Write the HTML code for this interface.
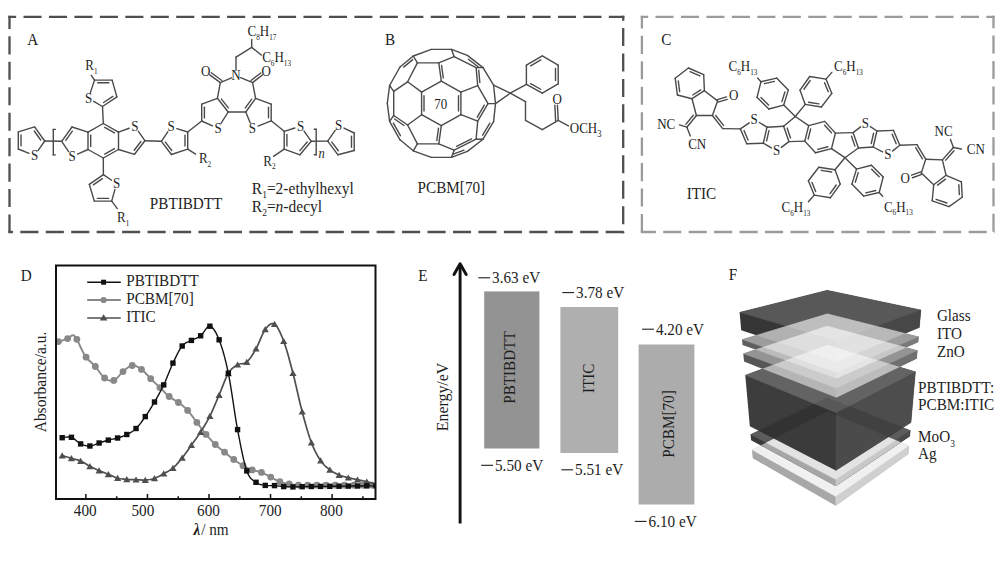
<!DOCTYPE html>
<html><head><meta charset="utf-8"><title>Figure</title>
<style>html,body{margin:0;padding:0;background:#fff;overflow:hidden;}svg{display:block;font-family:"Liberation Serif", "Times New Roman", serif;}</style></head>
<body><svg width="1000" height="562" viewBox="0 0 1000 562">
<rect width="1000" height="562" fill="#fff"/>
<line x1="8.35" y1="16.8" x2="624.35" y2="16.8" stroke="#4f4f4f" stroke-width="2.3" stroke-dasharray="18.1 7.35" stroke-dashoffset="10.3"/>
<line x1="9.5" y1="15.65" x2="9.5" y2="233.15" stroke="#4f4f4f" stroke-width="2.3" stroke-dasharray="18.1 7.35" stroke-dashoffset="4.8"/>
<line x1="8.35" y1="232" x2="624.35" y2="232" stroke="#4f4f4f" stroke-width="2.3" stroke-dasharray="18.1 7.35" stroke-dashoffset="13.5"/>
<line x1="623.2" y1="15.65" x2="623.2" y2="233.15" stroke="#4f4f4f" stroke-width="2.3" stroke-dasharray="18.1 7.35" stroke-dashoffset="13.1"/>
<line x1="640.75" y1="16.8" x2="994.65" y2="16.8" stroke="#9b9b9b" stroke-width="2.3" stroke-dasharray="18.1 7.35" stroke-dashoffset="10.7"/>
<line x1="641.9" y1="15.65" x2="641.9" y2="233.15" stroke="#9b9b9b" stroke-width="2.3" stroke-dasharray="18.1 7.35" stroke-dashoffset="5.3"/>
<line x1="640.75" y1="232" x2="994.65" y2="232" stroke="#9b9b9b" stroke-width="2.3" stroke-dasharray="18.1 7.35" stroke-dashoffset="3"/>
<line x1="993.5" y1="15.65" x2="993.5" y2="233.15" stroke="#9b9b9b" stroke-width="2.3" stroke-dasharray="18.1 7.35" stroke-dashoffset="5.6"/>
<text transform="translate(27.3,45.2) scale(1,1.05)" font-size="15.2" text-anchor="start" fill="#1e1e1e" >A</text>
<text transform="translate(385,44.9) scale(1,1.05)" font-size="15.2" text-anchor="start" fill="#1e1e1e" >B</text>
<text transform="translate(661.2,44.8) scale(1,1.05)" font-size="15.2" text-anchor="start" fill="#1e1e1e" >C</text>
<text transform="translate(20.8,280.6) scale(1,1.05)" font-size="15.2" text-anchor="start" fill="#1e1e1e" >D</text>
<text transform="translate(418.2,280.6) scale(1,1.05)" font-size="15.2" text-anchor="start" fill="#1e1e1e" >E</text>
<text transform="translate(728.7,280.4) scale(1,1.05)" font-size="15.2" text-anchor="start" fill="#1e1e1e" >F</text>
<line x1="85.9" y1="499" x2="85.9" y2="494" stroke="#111" stroke-width="1.5" />
<text transform="translate(85.2,516.2) scale(1,1.05)" font-size="15.2" text-anchor="middle" fill="#1e1e1e" >400</text>
<line x1="116.68" y1="499" x2="116.68" y2="496.2" stroke="#111" stroke-width="1.5" />
<line x1="147.45" y1="499" x2="147.45" y2="494" stroke="#111" stroke-width="1.5" />
<text transform="translate(142.9,516.2) scale(1,1.05)" font-size="15.2" text-anchor="middle" fill="#1e1e1e" >500</text>
<line x1="178.23" y1="499" x2="178.23" y2="496.2" stroke="#111" stroke-width="1.5" />
<line x1="209" y1="499" x2="209" y2="494" stroke="#111" stroke-width="1.5" />
<text transform="translate(208.5,516.2) scale(1,1.05)" font-size="15.2" text-anchor="middle" fill="#1e1e1e" >600</text>
<line x1="239.78" y1="499" x2="239.78" y2="496.2" stroke="#111" stroke-width="1.5" />
<line x1="270.55" y1="499" x2="270.55" y2="494" stroke="#111" stroke-width="1.5" />
<text transform="translate(270.2,516.2) scale(1,1.05)" font-size="15.2" text-anchor="middle" fill="#1e1e1e" >700</text>
<line x1="301.33" y1="499" x2="301.33" y2="496.2" stroke="#111" stroke-width="1.5" />
<line x1="332.1" y1="499" x2="332.1" y2="494" stroke="#111" stroke-width="1.5" />
<text transform="translate(331.4,516.2) scale(1,1.05)" font-size="15.2" text-anchor="middle" fill="#1e1e1e" >800</text>
<line x1="362.88" y1="499" x2="362.88" y2="496.2" stroke="#111" stroke-width="1.5" />
<rect x="56" y="265.5" width="319.5" height="233.5" fill="none" stroke="#111" stroke-width="2"/>
<text x="0" y="0" font-size="15.5" fill="#1e1e1e" text-anchor="middle" transform="translate(46.2,382.0) rotate(-90) scale(1,1.05)">Absorbance/a.u.</text>
<text transform="translate(211,535) scale(1,1.05)" font-size="15.2" fill="#1e1e1e" text-anchor="middle"><tspan font-style="italic" font-weight="bold">λ</tspan><tspan dx="1">/ nm</tspan></text>
<clipPath id="cD"><rect x="57" y="266" width="318" height="232"/></clipPath>
<g clip-path="url(#cD)">
<polyline points="58.4,341.6 59.45,341.28 60.94,340.84 62.69,340.31 64.5,339.74 66.21,339.16 67.63,338.6 68.75,337.97 69.73,337.22 70.59,336.46 71.39,335.79 72.14,335.34 72.9,335.2 73.63,335.4 74.31,335.84 74.95,336.49 75.58,337.31 76.2,338.26 76.86,339.3 77.53,340.48 78.19,341.84 78.86,343.33 79.54,344.89 80.25,346.47 81,348 81.75,349.5 82.47,351.03 83.23,352.56 84.05,354.11 84.99,355.66 86.09,357.2 87.39,358.72 88.86,360.21 90.45,361.71 92.09,363.23 93.73,364.82 95.32,366.5 96.86,368.39 98.4,370.51 99.94,372.68 101.47,374.76 103.01,376.58 104.55,378 106.09,379.06 107.63,379.89 109.17,380.47 110.7,380.77 112.24,380.75 113.78,380.4 115.32,379.55 116.86,378.2 118.39,376.53 119.93,374.75 121.47,373.04 123.01,371.6 124.55,370.31 126.09,369 127.63,367.76 129.16,366.69 130.7,365.91 132.24,365.5 133.78,365.51 135.32,365.86 136.86,366.49 138.39,367.33 139.93,368.32 141.47,369.4 143.01,370.64 144.55,372.11 146.09,373.74 147.62,375.43 149.16,377.11 150.7,378.7 152.24,380.21 153.78,381.7 155.32,383.17 156.85,384.65 158.39,386.12 159.93,387.6 161.47,389.12 163.01,390.67 164.55,392.23 166.08,393.75 167.62,395.18 169.16,396.5 170.7,397.65 172.24,398.64 173.78,399.56 175.31,400.47 176.85,401.42 178.39,402.5 179.93,403.66 181.47,404.84 183,406.07 184.54,407.39 186.08,408.82 187.62,410.4 189.16,412.16 190.7,414.1 192.24,416.14 193.77,418.25 195.31,420.35 196.85,422.4 198.39,424.42 199.93,426.47 201.47,428.52 203,430.54 204.54,432.51 206.08,434.4 207.62,436.22 209.16,438 210.69,439.72 212.23,441.38 213.77,442.98 215.31,444.5 216.85,445.93 218.39,447.26 219.93,448.52 221.46,449.75 223,450.97 224.54,452.2 226.08,453.45 227.62,454.7 229.16,455.94 230.69,457.16 232.23,458.35 233.77,459.5 235.31,460.62 236.85,461.72 238.39,462.79 239.92,463.82 241.46,464.8 243,465.7 244.54,466.54 246.08,467.31 247.62,468.03 249.15,468.7 250.69,469.32 252.23,469.9 253.77,470.39 255.31,470.78 256.85,471.12 258.38,471.47 259.92,471.88 261.46,472.4 263,473.06 264.54,473.81 266.07,474.62 267.61,475.46 269.15,476.3 270.69,477.1 272.23,477.9 273.77,478.73 275.31,479.55 276.84,480.34 278.38,481.07 279.92,481.7 281.46,482.23 283,482.68 284.53,483.07 286.07,483.41 287.61,483.71 289.15,484 290.69,484.26 292.23,484.49 293.76,484.69 295.3,484.85 296.84,484.99 298.38,485.1 299.92,485.18 301.46,485.21 303,485.22 304.53,485.21 306.07,485.2 307.61,485.2 309.15,485.21 310.69,485.21 312.22,485.21 313.76,485.2 315.3,485.2 316.84,485.2 318.38,485.2 319.92,485.2 321.45,485.2 322.99,485.2 324.53,485.2 326.07,485.2 327.61,485.2 329.15,485.2 330.69,485.2 332.22,485.2 333.76,485.2 335.3,485.2 336.84,485.2 338.38,485.2 339.91,485.2 341.45,485.2 342.99,485.2 344.53,485.2 346.07,485.2 347.61,485.2 349.14,485.2 350.68,485.2 352.22,485.2 353.76,485.2 355.3,485.2 356.84,485.2 358.38,485.2 359.91,485.2 361.45,485.2 362.99,485.2 364.64,485.2 366.41,485.2 368.18,485.2 369.83,485.2 371.22,485.2 372.22,485.2" fill="none" stroke="#888888" stroke-width="1.9" stroke-linejoin="round"/>
<circle cx="58.4" cy="341.6" r="3.4" fill="#888888"/>
<circle cx="67.63" cy="338.6" r="3.4" fill="#888888"/>
<circle cx="76.86" cy="339.3" r="3.4" fill="#888888"/>
<circle cx="86.09" cy="357.2" r="3.4" fill="#888888"/>
<circle cx="95.32" cy="366.5" r="3.4" fill="#888888"/>
<circle cx="104.55" cy="378" r="3.4" fill="#888888"/>
<circle cx="113.78" cy="380.4" r="3.4" fill="#888888"/>
<circle cx="123.01" cy="371.6" r="3.4" fill="#888888"/>
<circle cx="132.24" cy="365.5" r="3.4" fill="#888888"/>
<circle cx="141.47" cy="369.4" r="3.4" fill="#888888"/>
<circle cx="150.7" cy="378.7" r="3.4" fill="#888888"/>
<circle cx="159.93" cy="387.6" r="3.4" fill="#888888"/>
<circle cx="169.16" cy="396.5" r="3.4" fill="#888888"/>
<circle cx="178.39" cy="402.5" r="3.4" fill="#888888"/>
<circle cx="187.62" cy="410.4" r="3.4" fill="#888888"/>
<circle cx="196.85" cy="422.4" r="3.4" fill="#888888"/>
<circle cx="206.08" cy="434.4" r="3.4" fill="#888888"/>
<circle cx="215.31" cy="444.5" r="3.4" fill="#888888"/>
<circle cx="224.54" cy="452.2" r="3.4" fill="#888888"/>
<circle cx="233.77" cy="459.5" r="3.4" fill="#888888"/>
<circle cx="243" cy="465.7" r="3.4" fill="#888888"/>
<circle cx="252.23" cy="469.9" r="3.4" fill="#888888"/>
<circle cx="261.46" cy="472.4" r="3.4" fill="#888888"/>
<circle cx="270.69" cy="477.1" r="3.4" fill="#888888"/>
<circle cx="279.92" cy="481.7" r="3.4" fill="#888888"/>
<circle cx="289.15" cy="484" r="3.4" fill="#888888"/>
<circle cx="298.38" cy="485.1" r="3.4" fill="#888888"/>
<circle cx="307.61" cy="485.2" r="3.4" fill="#888888"/>
<circle cx="316.84" cy="485.2" r="3.4" fill="#888888"/>
<circle cx="326.07" cy="485.2" r="3.4" fill="#888888"/>
<circle cx="335.3" cy="485.2" r="3.4" fill="#888888"/>
<circle cx="344.53" cy="485.2" r="3.4" fill="#888888"/>
<circle cx="353.76" cy="485.2" r="3.4" fill="#888888"/>
<circle cx="362.99" cy="485.2" r="3.4" fill="#888888"/>
<circle cx="372.22" cy="485.2" r="3.4" fill="#888888"/>
<polyline points="62.2,455.6 63.2,455.89 64.59,456.3 66.24,456.78 68.01,457.3 69.78,457.82 71.43,458.3 72.97,458.72 74.51,459.1 76.05,459.49 77.58,459.91 79.12,460.4 80.66,461 82.2,461.74 83.74,462.61 85.28,463.55 86.81,464.51 88.35,465.44 89.89,466.3 91.43,467.08 92.97,467.83 94.5,468.55 96.04,469.25 97.58,469.93 99.12,470.6 100.66,471.25 102.2,471.87 103.74,472.48 105.27,473.08 106.81,473.68 108.35,474.3 109.89,474.96 111.43,475.65 112.97,476.35 114.5,477.01 116.04,477.61 117.58,478.1 119.12,478.47 120.66,478.76 122.19,478.97 123.73,479.13 125.27,479.27 126.81,479.4 128.35,479.51 129.89,479.57 131.43,479.61 132.96,479.64 134.5,479.66 136.04,479.7 137.58,479.77 139.12,479.87 140.66,479.97 142.19,480.04 143.73,480.06 145.27,480 146.81,479.88 148.35,479.73 149.88,479.52 151.42,479.24 152.96,478.87 154.5,478.4 156.04,477.79 157.58,477.07 159.12,476.25 160.65,475.38 162.19,474.48 163.73,473.6 165.27,472.77 166.81,471.96 168.35,471.13 169.88,470.23 171.42,469.2 172.96,468 174.5,466.61 176.04,465.07 177.57,463.4 179.11,461.63 180.65,459.79 182.19,457.9 183.73,455.93 185.27,453.84 186.81,451.69 188.34,449.49 189.88,447.28 191.42,445.1 192.96,442.97 194.5,440.86 196.04,438.75 197.57,436.59 199.11,434.35 200.65,432 202.19,429.56 203.73,427.07 205.27,424.49 206.8,421.81 208.34,418.99 209.88,416 211.42,412.8 212.96,409.4 214.5,405.86 216.03,402.24 217.57,398.6 219.11,395 220.65,391.27 222.19,387.33 223.73,383.38 225.26,379.59 226.8,376.17 228.34,373.3 229.88,371.04 231.42,369.24 232.96,367.81 234.49,366.64 236.03,365.64 237.57,364.7 239.11,364.03 240.65,363.76 242.19,363.64 243.72,363.47 245.26,363 246.8,362 248.34,360.47 249.88,358.57 251.42,356.39 252.95,353.97 254.49,351.39 256.03,348.7 257.57,345.67 259.11,342.19 260.65,338.55 262.18,335.02 263.72,331.88 265.26,329.4 266.8,327.45 268.34,325.77 269.88,324.47 271.41,323.69 272.95,323.52 274.49,324.1 276.03,325.48 277.57,327.59 279.11,330.32 280.64,333.57 282.18,337.23 283.72,341.2 285.26,345.6 286.8,350.52 288.34,355.86 289.87,361.5 291.41,367.32 292.95,373.2 294.49,379.33 296.03,385.84 297.56,392.53 299.1,399.2 300.64,405.65 302.18,411.7 303.72,417.43 305.26,423.01 306.8,428.38 308.33,433.46 309.87,438.19 311.41,442.5 312.95,446.35 314.49,449.8 316.02,452.89 317.56,455.69 319.1,458.24 320.64,460.6 322.18,462.71 323.72,464.51 325.25,466.06 326.79,467.44 328.33,468.69 329.87,469.9 331.41,471.02 332.95,472 334.49,472.86 336.02,473.63 337.56,474.34 339.1,475 340.64,475.6 342.18,476.1 343.72,476.54 345.25,476.94 346.79,477.32 348.33,477.7 349.87,478.07 351.41,478.42 352.94,478.74 354.48,479.06 356.02,479.37 357.56,479.7 359.1,480.03 360.64,480.34 362.18,480.66 363.71,480.99 365.25,481.33 366.79,481.7 368.44,482.13 370.21,482.62 371.98,483.13 373.63,483.6 375.02,484.01 376.02,484.3" fill="none" stroke="#4f4f4f" stroke-width="1.7" stroke-linejoin="round"/>
<polygon points="62.2,452.3 65.8,458.5 58.6,458.5" fill="#4f4f4f" />
<polygon points="71.43,455 75.03,461.2 67.83,461.2" fill="#4f4f4f" />
<polygon points="80.66,457.7 84.26,463.9 77.06,463.9" fill="#4f4f4f" />
<polygon points="89.89,463 93.49,469.2 86.29,469.2" fill="#4f4f4f" />
<polygon points="99.12,467.3 102.72,473.5 95.52,473.5" fill="#4f4f4f" />
<polygon points="108.35,471 111.95,477.2 104.75,477.2" fill="#4f4f4f" />
<polygon points="117.58,474.8 121.18,481 113.98,481" fill="#4f4f4f" />
<polygon points="126.81,476.1 130.41,482.3 123.21,482.3" fill="#4f4f4f" />
<polygon points="136.04,476.4 139.64,482.6 132.44,482.6" fill="#4f4f4f" />
<polygon points="145.27,476.7 148.87,482.9 141.67,482.9" fill="#4f4f4f" />
<polygon points="154.5,475.1 158.1,481.3 150.9,481.3" fill="#4f4f4f" />
<polygon points="163.73,470.3 167.33,476.5 160.13,476.5" fill="#4f4f4f" />
<polygon points="172.96,464.7 176.56,470.9 169.36,470.9" fill="#4f4f4f" />
<polygon points="182.19,454.6 185.79,460.8 178.59,460.8" fill="#4f4f4f" />
<polygon points="191.42,441.8 195.02,448 187.82,448" fill="#4f4f4f" />
<polygon points="200.65,428.7 204.25,434.9 197.05,434.9" fill="#4f4f4f" />
<polygon points="209.88,412.7 213.48,418.9 206.28,418.9" fill="#4f4f4f" />
<polygon points="219.11,391.7 222.71,397.9 215.51,397.9" fill="#4f4f4f" />
<polygon points="228.34,370 231.94,376.2 224.74,376.2" fill="#4f4f4f" />
<polygon points="237.57,361.4 241.17,367.6 233.97,367.6" fill="#4f4f4f" />
<polygon points="246.8,358.7 250.4,364.9 243.2,364.9" fill="#4f4f4f" />
<polygon points="256.03,345.4 259.63,351.6 252.43,351.6" fill="#4f4f4f" />
<polygon points="265.26,326.1 268.86,332.3 261.66,332.3" fill="#4f4f4f" />
<polygon points="274.49,320.8 278.09,327 270.89,327" fill="#4f4f4f" />
<polygon points="283.72,337.9 287.32,344.1 280.12,344.1" fill="#4f4f4f" />
<polygon points="292.95,369.9 296.55,376.1 289.35,376.1" fill="#4f4f4f" />
<polygon points="302.18,408.4 305.78,414.6 298.58,414.6" fill="#4f4f4f" />
<polygon points="311.41,439.2 315.01,445.4 307.81,445.4" fill="#4f4f4f" />
<polygon points="320.64,457.3 324.24,463.5 317.04,463.5" fill="#4f4f4f" />
<polygon points="329.87,466.6 333.47,472.8 326.27,472.8" fill="#4f4f4f" />
<polygon points="339.1,471.7 342.7,477.9 335.5,477.9" fill="#4f4f4f" />
<polygon points="348.33,474.4 351.93,480.6 344.73,480.6" fill="#4f4f4f" />
<polygon points="357.56,476.4 361.16,482.6 353.96,482.6" fill="#4f4f4f" />
<polygon points="366.79,478.4 370.39,484.6 363.19,484.6" fill="#4f4f4f" />
<polygon points="376.02,481 379.62,487.2 372.42,487.2" fill="#4f4f4f" />
<polyline points="62.2,437.7 63.2,437.58 64.59,437.34 66.24,437.09 68.01,436.93 69.78,436.97 71.43,437.3 72.97,438.05 74.51,439.15 76.05,440.44 77.58,441.77 79.12,442.98 80.66,443.9 82.2,444.57 83.74,445.12 85.28,445.55 86.81,445.84 88.35,446 89.89,446 91.43,445.79 92.97,445.37 94.5,444.81 96.04,444.18 97.58,443.55 99.12,443 100.66,442.5 102.2,442 103.74,441.49 105.27,441 106.81,440.54 108.35,440.1 109.89,439.72 111.43,439.39 112.97,439.09 114.5,438.77 116.04,438.42 117.58,438 119.12,437.53 120.66,437.03 122.19,436.49 123.73,435.9 125.27,435.24 126.81,434.5 128.35,433.71 129.89,432.9 131.43,432.03 132.96,431.03 134.5,429.87 136.04,428.5 137.58,426.89 139.12,425.07 140.66,423.09 142.19,420.99 143.73,418.81 145.27,416.6 146.81,414.35 148.35,412.03 149.88,409.62 151.42,407.15 152.96,404.61 154.5,402 156.04,399.35 157.58,396.66 159.12,393.9 160.65,391.04 162.19,388.05 163.73,384.9 165.27,381.48 166.81,377.81 168.35,374 169.88,370.19 171.42,366.52 172.96,363.1 174.5,359.84 176.04,356.63 177.57,353.54 179.11,350.67 180.65,348.13 182.19,346 183.73,344.39 185.27,343.24 186.81,342.42 188.34,341.77 189.88,341.14 191.42,340.4 192.96,339.63 194.5,338.98 196.04,338.35 197.57,337.67 199.11,336.84 200.65,335.8 202.19,334.22 203.73,332.11 205.27,329.86 206.8,327.87 208.34,326.52 209.88,326.2 211.42,326.89 212.96,328.28 214.5,330.31 216.03,332.94 217.57,336.12 219.11,339.8 220.65,343.95 222.19,348.61 223.73,353.82 225.26,359.63 226.8,366.07 228.34,373.2 229.88,381.44 231.42,390.86 232.96,400.91 234.49,411.07 236.03,420.81 237.57,429.6 239.11,437.7 240.65,445.59 242.19,453.06 243.72,459.91 245.26,465.92 246.8,470.9 248.34,474.63 249.88,477.22 251.42,478.99 252.95,480.22 254.49,481.23 256.03,482.3 257.57,483.33 259.11,484.06 260.65,484.55 262.18,484.89 263.72,485.15 265.26,485.4 266.8,485.59 268.34,485.65 269.88,485.63 271.41,485.58 272.95,485.55 274.49,485.6 276.03,485.73 277.57,485.9 279.11,486.09 280.64,486.29 282.18,486.46 283.72,486.6 285.26,486.7 286.8,486.77 288.34,486.83 289.87,486.86 291.41,486.89 292.95,486.9 294.49,486.9 296.03,486.87 297.56,486.83 299.1,486.79 300.64,486.74 302.18,486.7 303.72,486.67 305.26,486.63 306.8,486.59 308.33,486.56 309.87,486.53 311.41,486.5 312.95,486.48 314.49,486.46 316.02,486.44 317.56,486.43 319.1,486.42 320.64,486.4 322.18,486.38 323.72,486.37 325.25,486.35 326.79,486.33 328.33,486.32 329.87,486.3 331.41,486.28 332.95,486.27 334.49,486.25 336.02,486.23 337.56,486.22 339.1,486.2 340.64,486.18 342.18,486.17 343.72,486.15 345.25,486.13 346.79,486.12 348.33,486.1 349.87,486.08 351.41,486.07 352.94,486.05 354.48,486.03 356.02,486.02 357.56,486 359.1,485.98 360.64,485.96 362.18,485.94 363.71,485.93 365.25,485.91 366.79,485.9 368.44,485.89 370.21,485.89 371.98,485.89 373.63,485.9 375.02,485.9 376.02,485.9" fill="none" stroke="#111111" stroke-width="1.4" stroke-linejoin="round"/>
<rect x="59.5" y="435" width="5.4" height="5.4" fill="#111111"/>
<rect x="68.73" y="434.6" width="5.4" height="5.4" fill="#111111"/>
<rect x="77.96" y="441.2" width="5.4" height="5.4" fill="#111111"/>
<rect x="87.19" y="443.3" width="5.4" height="5.4" fill="#111111"/>
<rect x="96.42" y="440.3" width="5.4" height="5.4" fill="#111111"/>
<rect x="105.65" y="437.4" width="5.4" height="5.4" fill="#111111"/>
<rect x="114.88" y="435.3" width="5.4" height="5.4" fill="#111111"/>
<rect x="124.11" y="431.8" width="5.4" height="5.4" fill="#111111"/>
<rect x="133.34" y="425.8" width="5.4" height="5.4" fill="#111111"/>
<rect x="142.57" y="413.9" width="5.4" height="5.4" fill="#111111"/>
<rect x="151.8" y="399.3" width="5.4" height="5.4" fill="#111111"/>
<rect x="161.03" y="382.2" width="5.4" height="5.4" fill="#111111"/>
<rect x="170.26" y="360.4" width="5.4" height="5.4" fill="#111111"/>
<rect x="179.49" y="343.3" width="5.4" height="5.4" fill="#111111"/>
<rect x="188.72" y="337.7" width="5.4" height="5.4" fill="#111111"/>
<rect x="197.95" y="333.1" width="5.4" height="5.4" fill="#111111"/>
<rect x="207.18" y="323.5" width="5.4" height="5.4" fill="#111111"/>
<rect x="216.41" y="337.1" width="5.4" height="5.4" fill="#111111"/>
<rect x="225.64" y="370.5" width="5.4" height="5.4" fill="#111111"/>
<rect x="234.87" y="426.9" width="5.4" height="5.4" fill="#111111"/>
<rect x="244.1" y="468.2" width="5.4" height="5.4" fill="#111111"/>
<rect x="253.33" y="479.6" width="5.4" height="5.4" fill="#111111"/>
<rect x="262.56" y="482.7" width="5.4" height="5.4" fill="#111111"/>
<rect x="271.79" y="482.9" width="5.4" height="5.4" fill="#111111"/>
<rect x="281.02" y="483.9" width="5.4" height="5.4" fill="#111111"/>
<rect x="290.25" y="484.2" width="5.4" height="5.4" fill="#111111"/>
<rect x="299.48" y="484" width="5.4" height="5.4" fill="#111111"/>
<rect x="308.71" y="483.8" width="5.4" height="5.4" fill="#111111"/>
<rect x="317.94" y="483.7" width="5.4" height="5.4" fill="#111111"/>
<rect x="327.17" y="483.6" width="5.4" height="5.4" fill="#111111"/>
<rect x="336.4" y="483.5" width="5.4" height="5.4" fill="#111111"/>
<rect x="345.63" y="483.4" width="5.4" height="5.4" fill="#111111"/>
<rect x="354.86" y="483.3" width="5.4" height="5.4" fill="#111111"/>
<rect x="364.09" y="483.2" width="5.4" height="5.4" fill="#111111"/>
<rect x="373.32" y="483.2" width="5.4" height="5.4" fill="#111111"/>
</g>
<line x1="87.2" y1="282.2" x2="120.8" y2="282.2" stroke="#111111" stroke-width="1.5" />
<rect x="101.1" y="279.7" width="5" height="5" fill="#111111"/>
<text transform="translate(126.2,286.3) scale(1,1.05)" font-size="15.2" text-anchor="start" fill="#1e1e1e" >PBTIBDTT</text>
<line x1="87.2" y1="300" x2="120.8" y2="300" stroke="#888888" stroke-width="1.8" />
<circle cx="103.6" cy="300" r="3.1" fill="#888888"/>
<text transform="translate(126.2,304.1) scale(1,1.05)" font-size="15.2" text-anchor="start" fill="#1e1e1e" >PCBM[70]</text>
<line x1="87.2" y1="318" x2="120.8" y2="318" stroke="#4f4f4f" stroke-width="1.5999999999999999" />
<polygon points="103.6,314.2 107.4,320.5 99.8,320.5" fill="#4f4f4f" />
<text transform="translate(126.2,322.1) scale(1,1.05)" font-size="15.2" text-anchor="start" fill="#1e1e1e" >ITIC</text>
<line x1="460.1" y1="523.4" x2="460.1" y2="264.5" stroke="#111" stroke-width="2.9" />
<polyline points="454,274.4 460.1,263.8 466.2,274.4" fill="none" stroke="#111" stroke-width="3.0" stroke-linejoin="round" stroke-linecap="round"/>
<text font-size="15.9" fill="#1e1e1e" text-anchor="middle" transform="translate(447.8,397.0) rotate(-90) scale(1,1.05)">Energy/eV</text>
<rect x="484.2" y="291.4" width="55.2" height="157.1" fill="#939393"/>
<text font-size="15.2" fill="#1e1e1e" text-anchor="middle" transform="translate(515.4,367.5) rotate(-90) scale(1,1.05)">PBTIBDTT</text>
<rect x="560.4" y="307" width="57.8" height="146" fill="#afafaf"/>
<text font-size="15.2" fill="#1e1e1e" text-anchor="middle" transform="translate(594.3,378.3) rotate(-90) scale(1,1.05)">ITIC</text>
<rect x="638.6" y="344.5" width="55.8" height="160" fill="#acacac"/>
<text font-size="15.2" fill="#1e1e1e" text-anchor="middle" transform="translate(674.2,424) rotate(-90) scale(1,1.05)">PCBM[70]</text>
<line x1="478.3" y1="277.8" x2="490.1" y2="277.8" stroke="#1e1e1e" stroke-width="1.1" />
<text transform="translate(492.1,283.4) scale(1,1.05)" font-size="15.2" fill="#1e1e1e">3.63 eV</text>
<line x1="562.3" y1="292.6" x2="574.1" y2="292.6" stroke="#1e1e1e" stroke-width="1.1" />
<text transform="translate(576.1,298.2) scale(1,1.05)" font-size="15.2" fill="#1e1e1e">3.78 eV</text>
<line x1="642.1" y1="329.2" x2="653.9" y2="329.2" stroke="#1e1e1e" stroke-width="1.1" />
<text transform="translate(655.9,334.8) scale(1,1.05)" font-size="15.2" fill="#1e1e1e">4.20 eV</text>
<line x1="481.2" y1="465.3" x2="493" y2="465.3" stroke="#1e1e1e" stroke-width="1.1" />
<text transform="translate(495,470.9) scale(1,1.05)" font-size="15.2" fill="#1e1e1e">5.50 eV</text>
<line x1="561.3" y1="469.8" x2="573.1" y2="469.8" stroke="#1e1e1e" stroke-width="1.1" />
<text transform="translate(575.1,475.4) scale(1,1.05)" font-size="15.2" fill="#1e1e1e">5.51 eV</text>
<line x1="634.8" y1="521.4" x2="646.6" y2="521.4" stroke="#1e1e1e" stroke-width="1.1" />
<text transform="translate(648.6,527) scale(1,1.05)" font-size="15.2" fill="#1e1e1e">6.10 eV</text>
<defs><clipPath id="agS"><polygon points="751.96,449.84 827.63,411.59 908.96,445.7 908.23,453.98 835.6,505.76 752.72,458.21"/></clipPath><clipPath id="acS"><polygon points="745.25,375.16 827.38,345.01 915.47,371.86 911.01,422.41 835.79,470.44 749.85,426.31"/></clipPath></defs>
<g style="isolation:isolate">
<g  >
<polygon points="751.96,449.84 827.63,411.59 908.96,445.7 908.23,453.98 835.6,505.76 752.72,458.21" fill="#a8a8a8" />
<polygon points="835.65,496.53 908.96,445.7 908.23,453.98 835.6,505.76" fill="#d0d0d0" stroke="#d0d0d0" stroke-width="0.3"/>
<polygon points="751.96,449.84 827.63,411.59 908.96,445.7 835.65,496.53" fill="#f0f0f0" stroke="#f0f0f0" stroke-width="0.3"/>
</g>
<g  >
<polygon points="750.59,434.53 827.58,397.82 910.29,430.54 909.8,436.18 835.71,485.9 751.1,440.23" fill="#3a3a3a" />
<polygon points="835.74,479.58 910.29,430.54 909.8,436.18 835.71,485.9" fill="#4a4a4a" stroke="#4a4a4a" stroke-width="0.3"/>
<polygon points="750.59,434.53 827.58,397.82 910.29,430.54 835.74,479.58" fill="#5c5c5c" stroke="#5c5c5c" stroke-width="0.3"/>
</g>
<g  clip-path="url(#agS)">
<polygon points="750.59,434.53 827.58,397.82 910.29,430.54 909.8,436.18 835.71,485.9 751.1,440.23" fill="#a6a6a6" />
<polygon points="835.74,479.58 910.29,430.54 909.8,436.18 835.71,485.9" fill="#c8c8c8" stroke="#c8c8c8" stroke-width="0.3"/>
<polygon points="750.59,434.53 827.58,397.82 910.29,430.54 835.74,479.58" fill="#e3e3e3" stroke="#e3e3e3" stroke-width="0.3"/>
</g>
<g  opacity="0.93">
<polygon points="745.25,375.16 827.38,345.01 915.47,371.86 911.01,422.41 835.79,470.44 749.85,426.31" fill="#2f2f2f" />
<polygon points="836.11,412.91 915.47,371.86 911.01,422.41 835.79,470.44" fill="#404040" stroke="#404040" stroke-width="0.3"/>
<polygon points="745.25,375.16 827.38,345.01 915.47,371.86 836.11,412.91" fill="#585858" stroke="#585858" stroke-width="0.3"/>
</g>
<g style="mix-blend-mode:screen" >
<polygon points="739.6,312.37 827.18,290.2 920.93,309.92 919.38,327.48 836.39,361.4 741.2,330.19" fill="#363636" />
<polygon points="836.51,340.74 920.93,309.92 919.38,327.48 836.39,361.4" fill="#474747" stroke="#474747" stroke-width="0.3"/>
<polygon points="739.6,312.37 827.18,290.2 920.93,309.92 836.51,340.74" fill="#585858" stroke="#585858" stroke-width="0.3"/>
</g>
<g style="mix-blend-mode:screen" >
<polygon points="742.05,339.54 827.27,313.79 918.57,336.71 918.1,342.05 836.3,378.42 742.53,344.96" fill="#5e5e5e" />
<polygon points="836.33,372.19 918.57,336.71 918.1,342.05 836.3,378.42" fill="#7a7a7a" stroke="#7a7a7a" stroke-width="0.3"/>
<polygon points="742.05,339.54 827.27,313.79 918.57,336.71 836.33,372.19" fill="#9c9c9c" stroke="#9c9c9c" stroke-width="0.3"/>
</g>
<g style="mix-blend-mode:screen" >
<polygon points="743.31,353.63 827.31,326.1 917.34,350.61 916.65,358.49 836.19,397.5 744.03,361.62" fill="#565656" />
<polygon points="836.25,388.36 917.34,350.61 916.65,358.49 836.19,397.5" fill="#707070" stroke="#707070" stroke-width="0.3"/>
<polygon points="743.31,353.63 827.31,326.1 917.34,350.61 836.25,388.36" fill="#949494" stroke="#949494" stroke-width="0.3"/>
</g>
<g style="mix-blend-mode:screen" clip-path="url(#acS)">
<polygon points="743.31,353.63 827.31,326.1 917.34,350.61 916.65,358.49 836.19,397.5 744.03,361.62" fill="#5c5c5c" />
<polygon points="836.25,388.36 917.34,350.61 916.65,358.49 836.19,397.5" fill="#505050" stroke="#505050" stroke-width="0.3"/>
<polygon points="743.31,353.63 827.31,326.1 917.34,350.61 836.25,388.36" fill="#4a4a4a" stroke="#4a4a4a" stroke-width="0.3"/>
</g>
</g>
<text transform="translate(936.9,321.1) scale(1,1.05)" font-size="15.2" text-anchor="start" fill="#1e1e1e" >Glass</text>
<text transform="translate(936.9,338.9) scale(1,1.05)" font-size="15.2" text-anchor="start" fill="#1e1e1e" >ITO</text>
<text transform="translate(936.9,356.5) scale(1,1.05)" font-size="15.2" text-anchor="start" fill="#1e1e1e" >ZnO</text>
<text transform="translate(918.1,392.7) scale(1,1.05)" font-size="15.2" text-anchor="start" fill="#1e1e1e" >PBTIBDTT:</text>
<text transform="translate(918.1,410) scale(1,1.05)" font-size="15.2" text-anchor="start" fill="#1e1e1e" >PCBM:ITIC</text>
<text transform="translate(918.1,459.2) scale(1,1.05)" font-size="15.2" text-anchor="start" fill="#1e1e1e" >Ag</text>
<text transform="translate(918.1,441.6) scale(1,1.05)" font-size="15.2" fill="#1e1e1e">MoO<tspan font-size="9.5" dy="5">3</tspan></text>
<g stroke="#4a4a4a" stroke-width="1.4" stroke-linecap="round" fill="none">
<line x1="44.7" y1="141" x2="34.6" y2="126.9"/>
<line x1="40.69" y1="140.03" x2="34.22" y2="131.01"/>
<line x1="34.6" y1="126.9" x2="18.3" y2="131.9"/>
<line x1="18.3" y1="131.9" x2="18.3" y2="149"/>
<line x1="21" y1="134.98" x2="21" y2="145.92"/>
<line x1="18.3" y1="149" x2="29.04" y2="153.35"/>
<line x1="38.01" y1="150.67" x2="44.7" y2="141"/>
<line x1="44.7" y1="141" x2="61.7" y2="141.3"/>
<line x1="53.3" y1="129.4" x2="53.3" y2="154.9"/>
<line x1="53.3" y1="129.4" x2="55.3" y2="129.4"/>
<line x1="53.3" y1="154.9" x2="55.3" y2="154.9"/>
<line x1="103.3" y1="123.5" x2="118.5" y2="132.2"/>
<line x1="104.69" y1="127.41" x2="114.42" y2="132.98"/>
<line x1="118.5" y1="132.2" x2="118.5" y2="149.5"/>
<line x1="118.5" y1="149.5" x2="103.3" y2="158"/>
<line x1="114.45" y1="148.67" x2="104.72" y2="154.11"/>
<line x1="103.3" y1="158" x2="88" y2="149.5"/>
<line x1="88" y1="149.5" x2="88" y2="132.2"/>
<line x1="90.7" y1="146.39" x2="90.7" y2="135.31"/>
<line x1="88" y1="132.2" x2="103.3" y2="123.5"/>
<line x1="61.7" y1="141.3" x2="72" y2="127"/>
<line x1="65.74" y1="140.3" x2="72.34" y2="131.15"/>
<line x1="72" y1="127" x2="88" y2="132.2"/>
<line x1="88" y1="149.5" x2="77.5" y2="154.1"/>
<line x1="68.63" y1="151.53" x2="61.7" y2="141.3"/>
<line x1="118.5" y1="132.2" x2="129.17" y2="128.27"/>
<line x1="138.23" y1="131.12" x2="144.9" y2="140.7"/>
<line x1="144.9" y1="140.7" x2="134.5" y2="154.3"/>
<line x1="140.88" y1="141.51" x2="134.23" y2="150.21"/>
<line x1="134.5" y1="154.3" x2="118.5" y2="149.5"/>
<line x1="103.3" y1="123.5" x2="102.5" y2="106.5"/>
<line x1="102.5" y1="106.5" x2="116.9" y2="96.9"/>
<line x1="103.59" y1="102.53" x2="112.81" y2="96.38"/>
<line x1="116.9" y1="96.9" x2="112.1" y2="80.1"/>
<line x1="112.1" y1="80.1" x2="94.5" y2="80.1"/>
<line x1="108.93" y1="82.8" x2="97.67" y2="82.8"/>
<line x1="94.5" y1="80.1" x2="90.38" y2="92.6"/>
<line x1="93.68" y1="101.33" x2="102.5" y2="106.5"/>
<line x1="94.5" y1="80.1" x2="91.3" y2="75.3"/>
<line x1="103.3" y1="158" x2="103.4" y2="174.7"/>
<line x1="103.4" y1="174.7" x2="89.3" y2="184.3"/>
<line x1="102.38" y1="178.66" x2="93.36" y2="184.8"/>
<line x1="89.3" y1="184.3" x2="94.3" y2="201.1"/>
<line x1="94.3" y1="201.1" x2="111.7" y2="201.1"/>
<line x1="97.43" y1="198.4" x2="108.57" y2="198.4"/>
<line x1="111.7" y1="201.1" x2="114.91" y2="189.39"/>
<line x1="111.54" y1="180.23" x2="103.4" y2="174.7"/>
<line x1="111.7" y1="201.1" x2="117.3" y2="208.6"/>
<line x1="144.9" y1="140.7" x2="161.4" y2="141.3"/>
<line x1="161.4" y1="141.3" x2="167.76" y2="131.79"/>
<line x1="176.83" y1="128.59" x2="187.7" y2="132"/>
<line x1="187.7" y1="132" x2="187.7" y2="149.1"/>
<line x1="185" y1="135.08" x2="185" y2="146.02"/>
<line x1="187.7" y1="149.1" x2="171.4" y2="154.5"/>
<line x1="171.4" y1="154.5" x2="161.4" y2="141.3"/>
<line x1="171.75" y1="150.49" x2="165.35" y2="142.05"/>
<line x1="187.7" y1="149.1" x2="195.6" y2="154.1"/>
<line x1="187.7" y1="132" x2="201.7" y2="121"/>
<line x1="201.7" y1="121" x2="201.7" y2="104.2"/>
<line x1="204.4" y1="117.98" x2="204.4" y2="107.22"/>
<line x1="201.7" y1="104.2" x2="217.4" y2="98.3"/>
<line x1="217.4" y1="98.3" x2="228.2" y2="112"/>
<line x1="228.2" y1="112" x2="221.18" y2="123.21"/>
<line x1="212.52" y1="125.85" x2="201.7" y2="121"/>
<line x1="221.46" y1="99.09" x2="228.38" y2="107.86"/>
<line x1="245.8" y1="112" x2="255.6" y2="98.3"/>
<line x1="255.6" y1="98.3" x2="271.2" y2="104.2"/>
<line x1="271.2" y1="104.2" x2="271.2" y2="120.8"/>
<line x1="268.5" y1="107.19" x2="268.5" y2="117.81"/>
<line x1="271.2" y1="120.8" x2="257.97" y2="126.08"/>
<line x1="250.15" y1="122.74" x2="245.8" y2="112"/>
<line x1="245.37" y1="107.96" x2="251.64" y2="99.2"/>
<line x1="228.2" y1="112" x2="245.8" y2="112"/>
<line x1="220.3" y1="82.6" x2="217.4" y2="98.3"/>
<line x1="252.6" y1="82.6" x2="255.6" y2="98.3"/>
<line x1="220.3" y1="82.6" x2="231.41" y2="77.79"/>
<line x1="252.6" y1="82.6" x2="240.63" y2="77.7"/>
<line x1="220.3" y1="82.6" x2="209.73" y2="74.86"/>
<line x1="221.84" y1="80.5" x2="211.27" y2="72.76"/>
<line x1="252.6" y1="82.6" x2="262.36" y2="74.98"/>
<line x1="251" y1="80.55" x2="260.76" y2="72.93"/>
<line x1="236" y1="70.3" x2="236" y2="57.2"/>
<line x1="236" y1="57.2" x2="251.7" y2="47.4"/>
<line x1="251.7" y1="47.4" x2="251.7" y2="39.4"/>
<line x1="251.7" y1="47.4" x2="261.3" y2="55"/>
<line x1="271.2" y1="120.8" x2="284.2" y2="131.3"/>
<line x1="284.2" y1="131.3" x2="294.87" y2="127.98"/>
<line x1="304.07" y1="131.1" x2="311.3" y2="141.3"/>
<line x1="311.3" y1="141.3" x2="299.9" y2="154.8"/>
<line x1="307.19" y1="141.99" x2="299.89" y2="150.63"/>
<line x1="299.9" y1="154.8" x2="284.2" y2="149.1"/>
<line x1="284.2" y1="149.1" x2="284.2" y2="131.3"/>
<line x1="286.9" y1="145.9" x2="286.9" y2="134.5"/>
<line x1="284.2" y1="149.1" x2="273.5" y2="156.3"/>
<line x1="311.3" y1="141.3" x2="327.7" y2="141.1"/>
<line x1="316.2" y1="129.3" x2="316.2" y2="154.8"/>
<line x1="314.2" y1="129.3" x2="316.2" y2="129.3"/>
<line x1="314.2" y1="154.8" x2="316.2" y2="154.8"/>
<line x1="327.7" y1="141.1" x2="335.16" y2="130.42"/>
<line x1="344.01" y1="128.1" x2="354.2" y2="133"/>
<line x1="354.2" y1="133" x2="354.2" y2="150.5"/>
<line x1="351.5" y1="136.15" x2="351.5" y2="147.35"/>
<line x1="354.2" y1="150.5" x2="338" y2="154.8"/>
<line x1="338" y1="154.8" x2="327.7" y2="141.1"/>
<line x1="338.3" y1="150.71" x2="331.71" y2="141.94"/>
<line x1="431.3" y1="49.4" x2="451.5" y2="49.4"/>
<line x1="431.3" y1="157.4" x2="451.5" y2="157.4"/>
<line x1="431.3" y1="49.4" x2="413.3" y2="56"/>
<line x1="431.3" y1="157.4" x2="413.3" y2="150.8"/>
<line x1="413.3" y1="56" x2="400" y2="67"/>
<line x1="413.3" y1="150.8" x2="400" y2="139.8"/>
<line x1="400" y1="67" x2="389.6" y2="85.5"/>
<line x1="400" y1="139.8" x2="389.6" y2="121.3"/>
<line x1="389.6" y1="85.5" x2="393.7" y2="91.3"/>
<line x1="389.6" y1="121.3" x2="393.7" y2="115.5"/>
<line x1="413.3" y1="56" x2="417.4" y2="62.9"/>
<line x1="413.3" y1="150.8" x2="417.4" y2="143.9"/>
<line x1="417.4" y1="62.9" x2="438.8" y2="62.9"/>
<line x1="417.4" y1="143.9" x2="438.8" y2="143.9"/>
<line x1="438.8" y1="62.9" x2="454.1" y2="56.6"/>
<line x1="438.8" y1="143.9" x2="454.1" y2="150.2"/>
<line x1="451.5" y1="49.4" x2="454.1" y2="56.6"/>
<line x1="451.5" y1="157.4" x2="454.1" y2="150.2"/>
<line x1="451.5" y1="49.4" x2="467.4" y2="55.4"/>
<line x1="451.5" y1="157.4" x2="467.4" y2="151.4"/>
<line x1="454.1" y1="56.6" x2="476.1" y2="67.6"/>
<line x1="454.1" y1="150.2" x2="476.1" y2="139.2"/>
<line x1="467.4" y1="55.4" x2="483" y2="67.6"/>
<line x1="467.4" y1="151.4" x2="483" y2="139.2"/>
<line x1="476.1" y1="67.6" x2="483" y2="67.6"/>
<line x1="476.1" y1="139.2" x2="483" y2="139.2"/>
<line x1="438.8" y1="62.9" x2="441.3" y2="81.2"/>
<line x1="438.8" y1="143.9" x2="441.3" y2="125.6"/>
<line x1="441.3" y1="81.2" x2="421.6" y2="92.1"/>
<line x1="441.3" y1="125.6" x2="421.6" y2="114.7"/>
<line x1="441.3" y1="81.2" x2="460.9" y2="92.1"/>
<line x1="441.3" y1="125.6" x2="460.9" y2="114.7"/>
<line x1="421.6" y1="92.1" x2="407.6" y2="81.8"/>
<line x1="421.6" y1="114.7" x2="407.6" y2="125"/>
<line x1="407.6" y1="81.8" x2="417.4" y2="62.9"/>
<line x1="407.6" y1="125" x2="417.4" y2="143.9"/>
<line x1="407.6" y1="81.8" x2="393.7" y2="91.3"/>
<line x1="407.6" y1="125" x2="393.7" y2="115.5"/>
<line x1="460.9" y1="92.1" x2="477.7" y2="85.6"/>
<line x1="460.9" y1="114.7" x2="477.7" y2="121.2"/>
<line x1="477.7" y1="85.6" x2="476.1" y2="67.6"/>
<line x1="477.7" y1="121.2" x2="476.1" y2="139.2"/>
<line x1="477.7" y1="85.6" x2="488" y2="103.6"/>
<line x1="477.7" y1="121.2" x2="488" y2="103.6"/>
<line x1="483" y1="67.6" x2="493.6" y2="85.2"/>
<line x1="483" y1="139.2" x2="493.6" y2="121.6"/>
<line x1="493.6" y1="85.2" x2="495.5" y2="103.6"/>
<line x1="493.6" y1="121.6" x2="495.5" y2="103.6"/>
<line x1="389.6" y1="85.5" x2="387.3" y2="103.4"/>
<line x1="387.3" y1="103.4" x2="389.6" y2="121.3"/>
<line x1="393.7" y1="91.3" x2="393.7" y2="115.5"/>
<line x1="421.6" y1="92.1" x2="421.6" y2="114.7"/>
<line x1="460.9" y1="92.1" x2="460.9" y2="114.7"/>
<line x1="488" y1="103.6" x2="495.5" y2="103.6"/>
<line x1="493.6" y1="85.2" x2="510.2" y2="93.2"/>
<line x1="495.5" y1="103.6" x2="510.2" y2="93.2"/>
<line x1="441.58" y1="65.5" x2="443.28" y2="77.95"/>
<line x1="424" y1="95.72" x2="424" y2="111.08"/>
<line x1="458.5" y1="95.72" x2="458.5" y2="111.08"/>
<line x1="412.7" y1="59.61" x2="403.66" y2="67.09"/>
<line x1="478.75" y1="70.27" x2="479.83" y2="82.51"/>
<line x1="468.42" y1="59.24" x2="479.03" y2="67.54"/>
<line x1="394.57" y1="119" x2="404.02" y2="125.46"/>
<line x1="393.36" y1="123.08" x2="400.43" y2="135.66"/>
<line x1="436.82" y1="140.65" x2="438.52" y2="128.2"/>
<line x1="484.28" y1="105.2" x2="477.28" y2="117.17"/>
<line x1="489.85" y1="123.18" x2="482.64" y2="135.15"/>
<line x1="471.51" y1="138.81" x2="456.55" y2="146.29"/>
<line x1="453.2" y1="154.19" x2="464.01" y2="150.11"/>
<line x1="526.4" y1="84.4" x2="526.4" y2="65.2"/>
<line x1="526.4" y1="65.2" x2="542.3" y2="55.9"/>
<line x1="530.63" y1="65.86" x2="540.8" y2="59.9"/>
<line x1="542.3" y1="55.9" x2="558.2" y2="65.2"/>
<line x1="558.2" y1="65.2" x2="558.2" y2="83.9"/>
<line x1="555.5" y1="68.57" x2="555.5" y2="80.53"/>
<line x1="558.2" y1="83.9" x2="542.3" y2="93.2"/>
<line x1="542.3" y1="93.2" x2="526.4" y2="84.4"/>
<line x1="540.75" y1="89.25" x2="530.57" y2="83.62"/>
<line x1="510.2" y1="93.2" x2="526.4" y2="84.4"/>
<line x1="510.2" y1="93.2" x2="525.5" y2="101.6"/>
<line x1="525.5" y1="101.6" x2="525.5" y2="120.3"/>
<line x1="525.5" y1="120.3" x2="542.3" y2="129.6"/>
<line x1="542.3" y1="129.6" x2="558.2" y2="120.3"/>
<line x1="558.2" y1="120.3" x2="557.46" y2="105.19"/>
<line x1="555.6" y1="120.43" x2="554.86" y2="105.32"/>
<line x1="558.2" y1="120.3" x2="568.4" y2="125.9"/>
<line x1="688.4" y1="68" x2="703.7" y2="74.6"/>
<line x1="690.08" y1="71.67" x2="699.88" y2="75.89"/>
<line x1="703.7" y1="74.6" x2="704.4" y2="90.7"/>
<line x1="704.4" y1="90.7" x2="692" y2="98.7"/>
<line x1="700.7" y1="89.87" x2="692.77" y2="94.99"/>
<line x1="692" y1="98.7" x2="677.4" y2="95"/>
<line x1="677.4" y1="95" x2="675.2" y2="78.2"/>
<line x1="679.68" y1="91.63" x2="678.27" y2="80.87"/>
<line x1="675.2" y1="78.2" x2="688.4" y2="68"/>
<line x1="704.4" y1="90.7" x2="717.6" y2="100.9"/>
<line x1="717.6" y1="100.9" x2="712.4" y2="115.5"/>
<line x1="712.4" y1="115.5" x2="696.4" y2="115.5"/>
<line x1="696.4" y1="115.5" x2="692" y2="98.7"/>
<line x1="717.98" y1="102.19" x2="727.28" y2="99.44"/>
<line x1="717.22" y1="99.61" x2="726.51" y2="96.85"/>
<line x1="696.4" y1="115.5" x2="686.9" y2="127.2"/>
<line x1="693.24" y1="115.27" x2="686.02" y2="124.16"/>
<line x1="686.9" y1="127.2" x2="679.4" y2="124.9"/>
<line x1="686.9" y1="127.2" x2="690.3" y2="135.9"/>
<line x1="712.4" y1="115.5" x2="722.7" y2="128.6"/>
<line x1="715.68" y1="115.46" x2="723.51" y2="125.42"/>
<line x1="722.7" y1="128.6" x2="740.4" y2="128.9"/>
<line x1="946.1" y1="175.3" x2="961.4" y2="181.8"/>
<line x1="961.4" y1="181.8" x2="962.2" y2="197.2"/>
<line x1="958.85" y1="184.71" x2="959.36" y2="194.57"/>
<line x1="962.2" y1="197.2" x2="949" y2="206.6"/>
<line x1="949" y1="206.6" x2="932.2" y2="200.8"/>
<line x1="946.86" y1="203" x2="936.11" y2="199.29"/>
<line x1="932.2" y1="200.8" x2="933.7" y2="184.7"/>
<line x1="933.7" y1="184.7" x2="946.1" y2="175.3"/>
<line x1="937.56" y1="185.16" x2="945.5" y2="179.14"/>
<line x1="933.7" y1="184.7" x2="921.3" y2="173.1"/>
<line x1="921.3" y1="173.1" x2="925.7" y2="159.2"/>
<line x1="925.7" y1="159.2" x2="942.4" y2="159.9"/>
<line x1="942.4" y1="159.9" x2="946.1" y2="175.3"/>
<line x1="920.84" y1="171.83" x2="911.52" y2="175.19"/>
<line x1="921.76" y1="174.37" x2="912.43" y2="177.73"/>
<line x1="942.4" y1="159.9" x2="953.4" y2="147.5"/>
<line x1="945.66" y1="160.14" x2="954.02" y2="150.71"/>
<line x1="953.4" y1="147.5" x2="950.5" y2="139.5"/>
<line x1="953.4" y1="147.5" x2="961.4" y2="149"/>
<line x1="925.7" y1="159.2" x2="916.9" y2="144.6"/>
<line x1="922.42" y1="158.79" x2="915.73" y2="147.69"/>
<line x1="916.9" y1="144.6" x2="899.8" y2="145.3"/>
<line x1="740.4" y1="128.9" x2="749.26" y2="122.8"/>
<line x1="759.32" y1="122.52" x2="767" y2="127.2"/>
<line x1="767" y1="127.2" x2="763.3" y2="143.2"/>
<line x1="763.3" y1="143.2" x2="746.7" y2="143.8"/>
<line x1="746.7" y1="143.8" x2="740.4" y2="128.9"/>
<line x1="748.05" y1="140.07" x2="744.02" y2="130.53"/>
<line x1="768.96" y1="130.69" x2="766.6" y2="140.93"/>
<line x1="767" y1="127.2" x2="783.6" y2="126.2"/>
<line x1="783.6" y1="126.2" x2="788.9" y2="141.6"/>
<line x1="788.9" y1="141.6" x2="781.37" y2="147.36"/>
<line x1="771.42" y1="147.96" x2="763.3" y2="143.2"/>
<line x1="787.11" y1="128.09" x2="790.5" y2="137.95"/>
<line x1="795.3" y1="116.5" x2="783.6" y2="126.2"/>
<line x1="795.3" y1="116.5" x2="808.7" y2="125.6"/>
<line x1="804.8" y1="141.1" x2="788.9" y2="141.6"/>
<line x1="761" y1="81.7" x2="776.6" y2="78.1"/>
<line x1="764.42" y1="83.68" x2="774.4" y2="81.38"/>
<line x1="776.6" y1="78.1" x2="788.3" y2="90.1"/>
<line x1="788.3" y1="90.1" x2="783.7" y2="105.1"/>
<line x1="784.89" y1="92.01" x2="781.95" y2="101.61"/>
<line x1="783.7" y1="105.1" x2="768.8" y2="109"/>
<line x1="768.8" y1="109" x2="757" y2="97.3"/>
<line x1="768.58" y1="104.98" x2="761.03" y2="97.49"/>
<line x1="757" y1="97.3" x2="761" y2="81.7"/>
<line x1="783.7" y1="105.1" x2="795.3" y2="116.5"/>
<line x1="761" y1="81.7" x2="757.6" y2="78"/>
<line x1="805.2" y1="104.4" x2="800" y2="90.1"/>
<line x1="800" y1="90.1" x2="809.7" y2="76.5"/>
<line x1="803.94" y1="89.22" x2="810.15" y2="80.52"/>
<line x1="809.7" y1="76.5" x2="826" y2="79.1"/>
<line x1="826" y1="79.1" x2="831.8" y2="93.4"/>
<line x1="824.54" y1="82.69" x2="828.25" y2="91.84"/>
<line x1="831.8" y1="93.4" x2="821.4" y2="107"/>
<line x1="821.4" y1="107" x2="805.2" y2="104.4"/>
<line x1="818.91" y1="103.87" x2="808.54" y2="102.2"/>
<line x1="805.2" y1="104.4" x2="795.3" y2="116.5"/>
<line x1="826" y1="79.1" x2="831.8" y2="72.4"/>
<line x1="899.8" y1="145.3" x2="892.5" y2="151.08"/>
<line x1="882.51" y1="151.97" x2="873.2" y2="147"/>
<line x1="873.2" y1="147" x2="876.9" y2="131"/>
<line x1="876.9" y1="131" x2="893.5" y2="130.4"/>
<line x1="893.5" y1="130.4" x2="899.8" y2="145.3"/>
<line x1="892.15" y1="134.13" x2="896.18" y2="143.67"/>
<line x1="871.24" y1="143.51" x2="873.6" y2="133.27"/>
<line x1="873.2" y1="147" x2="858.4" y2="148"/>
<line x1="858.4" y1="148" x2="853.1" y2="132.6"/>
<line x1="853.1" y1="132.6" x2="860.63" y2="126.84"/>
<line x1="870.37" y1="126.57" x2="876.9" y2="131"/>
<line x1="854.89" y1="146.11" x2="851.5" y2="136.25"/>
<line x1="844.9" y1="157.7" x2="858.4" y2="148"/>
<line x1="844.9" y1="157.7" x2="831.5" y2="148.6"/>
<line x1="835.4" y1="133.1" x2="853.1" y2="132.6"/>
<line x1="879.2" y1="192.5" x2="863.6" y2="196.1"/>
<line x1="875.78" y1="190.52" x2="865.8" y2="192.82"/>
<line x1="863.6" y1="196.1" x2="851.9" y2="184.1"/>
<line x1="851.9" y1="184.1" x2="856.5" y2="169.1"/>
<line x1="855.31" y1="182.19" x2="858.25" y2="172.59"/>
<line x1="856.5" y1="169.1" x2="871.4" y2="165.2"/>
<line x1="871.4" y1="165.2" x2="883.2" y2="176.9"/>
<line x1="871.62" y1="169.22" x2="879.17" y2="176.71"/>
<line x1="883.2" y1="176.9" x2="879.2" y2="192.5"/>
<line x1="856.5" y1="169.1" x2="844.9" y2="157.7"/>
<line x1="879.2" y1="192.5" x2="882.6" y2="196.2"/>
<line x1="835" y1="169.8" x2="840.2" y2="184.1"/>
<line x1="840.2" y1="184.1" x2="830.5" y2="197.7"/>
<line x1="836.26" y1="184.98" x2="830.05" y2="193.68"/>
<line x1="830.5" y1="197.7" x2="814.2" y2="195.1"/>
<line x1="814.2" y1="195.1" x2="808.4" y2="180.8"/>
<line x1="815.66" y1="191.51" x2="811.95" y2="182.36"/>
<line x1="808.4" y1="180.8" x2="818.8" y2="167.2"/>
<line x1="818.8" y1="167.2" x2="835" y2="169.8"/>
<line x1="821.29" y1="170.33" x2="831.66" y2="172"/>
<line x1="835" y1="169.8" x2="844.9" y2="157.7"/>
<line x1="814.2" y1="195.1" x2="808.4" y2="201.8"/>
<line x1="808.7" y1="125.6" x2="824.7" y2="121.4"/>
<line x1="824.7" y1="121.4" x2="835.4" y2="133.1"/>
<line x1="824.63" y1="125.33" x2="831.48" y2="132.82"/>
<line x1="835.4" y1="133.1" x2="831.5" y2="148.6"/>
<line x1="831.5" y1="148.6" x2="815.5" y2="152.8"/>
<line x1="827.93" y1="146.74" x2="817.69" y2="149.43"/>
<line x1="815.5" y1="152.8" x2="804.8" y2="141.1"/>
<line x1="804.8" y1="141.1" x2="808.7" y2="125.6"/>
<line x1="808.12" y1="138.97" x2="810.62" y2="129.05"/>
</g>
<g fill="#1e1e1e">
<text transform="translate(34.6,159.9) scale(1,1.1)" font-size="13" text-anchor="middle" >S</text>
<text transform="translate(72,160.8) scale(1,1.1)" font-size="13" text-anchor="middle" >S</text>
<text transform="translate(134.8,130.5) scale(1,1.1)" font-size="13" text-anchor="middle" >S</text>
<text transform="translate(88.5,102.6) scale(1,1.1)" font-size="13" text-anchor="middle" >S</text>
<text transform="translate(85.3,69.7) scale(1,1.1)" font-size="13" text-anchor="start"><tspan dy="0">R</tspan><tspan font-size="7.2" dy="3.6">1</tspan></text>
<text transform="translate(116.5,187.9) scale(1,1.1)" font-size="13" text-anchor="middle" >S</text>
<text transform="translate(117.1,221.7) scale(1,1.1)" font-size="13" text-anchor="start"><tspan dy="0">R</tspan><tspan font-size="7.2" dy="3.6">1</tspan></text>
<text transform="translate(171.1,131.1) scale(1,1.1)" font-size="13" text-anchor="middle" >S</text>
<text transform="translate(198.9,163.3) scale(1,1.1)" font-size="13" text-anchor="start"><tspan dy="0">R</tspan><tspan font-size="7.2" dy="3.6">2</tspan></text>
<text transform="translate(218,132.6) scale(1,1.1)" font-size="13" text-anchor="middle" >S</text>
<text transform="translate(252.4,132.6) scale(1,1.1)" font-size="13" text-anchor="middle" >S</text>
<text transform="translate(236,80.1) scale(1,1.1)" font-size="13" text-anchor="middle" >N</text>
<text transform="translate(205.7,76.2) scale(1,1.1)" font-size="13" text-anchor="middle" >O</text>
<text transform="translate(266.3,76.2) scale(1,1.1)" font-size="13" text-anchor="middle" >O</text>
<text transform="translate(247.5,35.6) scale(1,1.1)" font-size="13" text-anchor="start"><tspan dy="0">C</tspan><tspan font-size="7.2" dy="3.6">8</tspan><tspan dy="-3.6">H</tspan><tspan font-size="7.2" dy="3.6">17</tspan></text>
<text transform="translate(262.2,62) scale(1,1.1)" font-size="13" text-anchor="start"><tspan dy="0">C</tspan><tspan font-size="7.2" dy="3.6">6</tspan><tspan dy="-3.6">H</tspan><tspan font-size="7.2" dy="3.6">13</tspan></text>
<text transform="translate(300.6,130.5) scale(1,1.1)" font-size="13" text-anchor="middle" >S</text>
<text transform="translate(263.3,165.5) scale(1,1.1)" font-size="13" text-anchor="start"><tspan dy="0">R</tspan><tspan font-size="7.2" dy="3.6">2</tspan></text>
<text transform="translate(318.6,158) scale(1,1.1)" font-size="12.5" text-anchor="start" font-style="italic">n</text>
<text transform="translate(338.6,129.8) scale(1,1.1)" font-size="13" text-anchor="middle" >S</text>
<text transform="translate(149.8,209.4) scale(1,1.05)" font-size="15.2" text-anchor="start" >PBTIBDTT</text>
<text transform="translate(251.8,194.2) scale(1,1.05)" font-size="15.5">R<tspan font-size="9.5" dy="4">1</tspan><tspan dy="-4">=2-ethylhexyl</tspan></text>
<text transform="translate(251.8,211.8) scale(1,1.05)" font-size="15.5">R<tspan font-size="9.5" dy="4">2</tspan><tspan dy="-4">=</tspan><tspan font-style="italic">n</tspan>-decyl</text>
<text transform="translate(440.8,108.8) scale(1,1.1)" font-size="13" text-anchor="middle" >70</text>
<text transform="translate(557.2,104.3) scale(1,1.1)" font-size="13" text-anchor="middle" >O</text>
<text transform="translate(569.8,133.2) scale(1,1.1)" font-size="13">OCH<tspan font-size="8.5" dy="3.8">3</tspan></text>
<text transform="translate(417.6,192.5) scale(1,1.05)" font-size="15.2" text-anchor="start" >PCBM[70]</text>
<text transform="translate(754.2,123.7) scale(1,1.1)" font-size="13" text-anchor="middle" >S</text>
<text transform="translate(776.6,155.3) scale(1,1.1)" font-size="13" text-anchor="middle" >S</text>
<text transform="translate(887.8,159.1) scale(1,1.1)" font-size="13" text-anchor="middle" >S</text>
<text transform="translate(865.4,127.5) scale(1,1.1)" font-size="13" text-anchor="middle" >S</text>
<text transform="translate(733.8,100.4) scale(1,1.1)" font-size="13" text-anchor="middle" >O</text>
<text transform="translate(905.2,183.2) scale(1,1.1)" font-size="13" text-anchor="middle" >O</text>
<text transform="translate(675.3,129.1) scale(1,1.1)" font-size="13" text-anchor="end" >NC</text>
<text transform="translate(688.2,149) scale(1,1.1)" font-size="13" text-anchor="start" >CN</text>
<text transform="translate(934.5,135.6) scale(1,1.1)" font-size="13" text-anchor="start" >NC</text>
<text transform="translate(966.8,153.6) scale(1,1.1)" font-size="13" text-anchor="start" >CN</text>
<text transform="translate(757.4,71.3) scale(1,1.1)" font-size="13" text-anchor="end"><tspan dy="0">C</tspan><tspan font-size="7.2" dy="3.6">6</tspan><tspan dy="-3.6">H</tspan><tspan font-size="7.2" dy="3.6">13</tspan></text>
<text transform="translate(834,71) scale(1,1.1)" font-size="13" text-anchor="start"><tspan dy="0">C</tspan><tspan font-size="7.2" dy="3.6">6</tspan><tspan dy="-3.6">H</tspan><tspan font-size="7.2" dy="3.6">13</tspan></text>
<text transform="translate(810.4,211.6) scale(1,1.1)" font-size="13" text-anchor="end"><tspan dy="0">C</tspan><tspan font-size="7.2" dy="3.6">6</tspan><tspan dy="-3.6">H</tspan><tspan font-size="7.2" dy="3.6">13</tspan></text>
<text transform="translate(883.9,211.5) scale(1,1.1)" font-size="13" text-anchor="start"><tspan dy="0">C</tspan><tspan font-size="7.2" dy="3.6">6</tspan><tspan dy="-3.6">H</tspan><tspan font-size="7.2" dy="3.6">13</tspan></text>
<text transform="translate(686.7,198.7) scale(1,1.05)" font-size="15.2" text-anchor="start" >ITIC</text>
</g>
</svg></body></html>
